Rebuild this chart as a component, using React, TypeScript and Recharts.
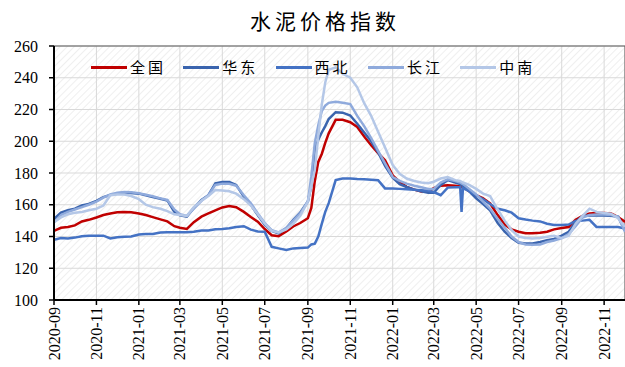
import React from 'react';
import { LineChart, Line, XAxis, YAxis, CartesianGrid, Legend, ReferenceLine } from 'recharts';

const dates = [
  '2020-09-01','2020-09-11','2020-09-21','2020-10-01','2020-10-11','2020-10-21','2020-11-01','2020-11-11','2020-11-21','2020-12-01',
  '2020-12-11','2020-12-21','2021-01-01','2021-01-11','2021-01-21','2021-02-01','2021-02-11','2021-02-21','2021-03-01','2021-03-11',
  '2021-03-21','2021-04-01','2021-04-11','2021-04-21','2021-05-01','2021-05-11','2021-05-21','2021-06-01','2021-06-11','2021-06-21',
  '2021-07-01','2021-07-11','2021-07-21','2021-08-01','2021-08-11','2021-08-21','2021-09-01','2021-09-06','2021-09-11','2021-09-16',
  '2021-09-21','2021-09-26','2021-10-01','2021-10-11','2021-10-21','2021-11-01','2021-11-11','2021-11-21','2021-12-01','2021-12-11',
  '2021-12-21','2022-01-01','2022-01-11','2022-01-21','2022-02-01','2022-02-11','2022-02-21','2022-03-01','2022-03-11','2022-03-21',
  '2022-04-01','2022-04-08','2022-04-10','2022-04-12','2022-04-21','2022-05-01','2022-05-11','2022-05-21','2022-06-01','2022-06-11',
  '2022-06-21','2022-07-01','2022-07-11','2022-07-21','2022-08-01','2022-08-11','2022-08-21','2022-09-01','2022-09-11','2022-09-21',
  '2022-10-01','2022-10-11','2022-10-21','2022-11-01','2022-11-11','2022-11-21','2022-12-01',
];

const national = [
  143.5,145.5,146,147,149.5,150.5,152,153.5,154.5,155.2,
  155.4,155.3,154.5,153.5,152.2,150.8,149.5,146.5,145.5,144.8,
  149,152.5,154.5,156.5,158.3,159.2,158.4,155.5,152.3,149.3,
  144.7,140.8,140.2,143.2,146.3,148.5,151.5,158,175,187,
  192,199,205,213.5,213.5,212,209,203,197.5,192.5,
  188,178.5,174.4,171.3,169.5,168.3,168.3,170.5,172,172.3,
  172,171.5,171.2,171,168.5,166,164,160.8,153.5,147.5,
  144.5,143,142,142,142.3,143,144.5,145.3,146,150.5,
  153,154.5,154.8,154.8,154.5,152.3,149.2,
];

const eastChina = [
  151,155,156.5,157.5,159.5,160.5,162.5,164.8,166.2,167,
  167.4,167.4,167,166,164.8,163.8,162.7,155.5,153.3,152.5,
  158,163,166,173.5,174.3,174.3,172.5,165,160,153.5,
  147.5,143.5,142,145.2,150.5,155,162,172,195,201,
  205.5,209.5,214,218.3,218,216.2,211,205.5,200,193,
  184.5,177,173,171.2,169.5,168.5,167.5,167.5,172.5,175.5,
  174,173,172.5,172,168.5,164,160.5,156.5,148.5,143,
  139,136,135.6,135.6,136.5,137.7,138.5,140.5,143,149,
  153,153.3,153.3,153.3,153,152.5,144,
];

const northwest = [
  138,139,138.8,139.3,140.2,140.4,140.5,140.5,138.8,139.5,
  139.8,140,141.3,141.5,141.6,142.5,142.7,142.7,142.7,142.7,
  143,143.8,143.8,144.5,144.8,145.2,146,146.5,144.3,143.2,
  143,133.5,132.5,131.5,132.5,132.8,133,135,135.5,140,
  148,155.5,161,175.5,176.5,176.5,176.2,176,175.8,175.5,
  170.3,170.2,170,169.8,169.5,169.2,168.8,168,166,170.8,
  171,171,155.5,170.5,168.5,166,163.5,160.5,157.5,156.5,
  155,151.5,150.7,150,149.5,148,147.3,147.3,147.5,149.8,
  150,150.5,146,146,146,146,145,
];

const yangtze = [
  149,153.5,155.5,157,158.5,160,162,164.5,166.5,167.5,
  168,167.8,167.2,166.3,165.3,164,163,157,154,153,
  157.5,162.5,166,172.5,173.3,173.2,172,166,161,154.5,
  148.5,144,142.5,145.5,150,154.5,162,178,199,210,
  219,222.5,224.2,224.9,224.3,223.4,216,209.5,202,194,
  186,177.5,175,173.3,172,171,170,170,174,176,
  175,174,173.5,173,170,166.5,162,157.5,151,145.5,
  140,136.5,135,134.8,135,136.5,137.5,139,141.5,146.5,
  152,153.5,153.8,153.8,153.5,152.5,143,
];

const centralSouth = [
  149,152,154,155,155.5,156.5,157.5,159.5,166,166.5,
  166.5,165.5,163.5,160,158.5,157.5,156,154,153.5,153,
  158.5,162.5,165.5,169.3,169,168.5,167,163.5,159.5,154,
  148,143.5,142.5,144.5,148,153,162,172,182,203,
  223,237,245,246.5,242.5,240,234,224,216,206,
  196,185,179.5,176.5,175,174,173.5,174.5,176.5,177.5,
  175.5,175,174.5,174,172.5,170,167,165.5,157,150,
  144,140,139,138.8,139,139.8,140.5,139,140.5,148,
  153,157.5,155.5,154.8,154.4,151.5,146,
];

const tickLabels = ['2020-09','2020-11','2021-01','2021-03','2021-05','2021-07','2021-09','2021-11','2022-01','2022-03','2022-05','2022-07','2022-09','2022-11'];
const yTicks = [100, 120, 140, 160, 180, 200, 220, 240, 260];

const seriesNames = ['全国', '华东', '西北', '长江', '中南'];
const seriesValues = [national, eastChina, northwest, yangtze, centralSouth];
const seriesColors = ['#C00000', '#3A64AE', '#4472C4', '#8FAADC', '#B4C7E7'];

const BASE = Date.UTC(2020, 8, 1);
const toDay = (s: string) => Math.round((Date.parse(s + 'T00:00:00Z') - BASE) / 86400000);
const tickDays = tickLabels.map((l) => toDay(l + '-01'));
const lastDay = toDay(dates[dates.length - 1]);

const data = dates.map((d, i) => {
  const row: any = { day: toDay(d) };
  seriesNames.forEach((n, k) => { row[n] = seriesValues[k][i]; });
  return row;
});

const SERIF = '"Liberation Serif", "Times New Roman", serif';
const CJK = '"Noto Sans CJK SC", sans-serif';

const XTick = (props: any) => {
  const { x, y, payload } = props;
  const idx = tickDays.indexOf(payload.value);
  const label = idx >= 0 ? tickLabels[idx] : '';
  return (
    <text x={x} y={y} transform={`rotate(-90 ${x} ${y})`} textAnchor="end" dominantBaseline="central"
      fontFamily={SERIF} fontSize={16} fill="#000">{label}</text>
  );
};

const renderLegend = () => (
  <div style={{ display: 'flex', paddingLeft: 91, width: 625, boxSizing: 'border-box' }}>
    {seriesNames.map((n, k) => (
      <div key={n} style={{ display: 'flex', alignItems: 'center', width: 92.3 }}>
        <div style={{ width: 36, height: 3, background: seriesColors[k], marginRight: 3 }} />
        <span style={{ fontFamily: CJK, fontSize: 15, letterSpacing: 3, color: '#000', lineHeight: '20px' }}>{n}</span>
      </div>
    ))}
  </div>
);

export default function App() {
  return (
    <div style={{ position: 'absolute', left: 0, top: 0, width: 625, height: 367, background: '#fff' }}>
      <div style={{ position: 'absolute', left: 0, top: 6, width: 650, textAlign: 'center', fontFamily: CJK, fontSize: 21, letterSpacing: 4, color: '#000', lineHeight: '28px' }}>
        水泥价格指数
      </div>
      <LineChart width={626} height={367} data={data} margin={{ top: 46, right: 1, bottom: 0, left: 0 }}>
        <defs>
          <pattern id="hatch" width="5" height="5" patternUnits="userSpaceOnUse" patternTransform="rotate(45)">
            <line x1="0" y1="0" x2="0" y2="5" stroke="#E4E4E4" strokeWidth="1.2" />
          </pattern>
        </defs>
        <CartesianGrid stroke="#D9D9D9" strokeWidth={1} fill="url(#hatch)" fillOpacity={1} />
        <XAxis dataKey="day" type="number" domain={[0, lastDay]} ticks={tickDays} interval={0}
          height={67} tickSize={5} tickMargin={2} tick={<XTick />}
          axisLine={{ stroke: '#000', strokeWidth: 2 }} tickLine={{ stroke: '#000', strokeWidth: 1.5 }} allowDataOverflow />
        <YAxis domain={[100, 260]} ticks={yTicks} interval={0} width={54} tickSize={5} tickMargin={11}
          tick={{ fontFamily: SERIF, fontSize: 16, fill: '#000' }}
          axisLine={{ stroke: '#000', strokeWidth: 2 }} tickLine={{ stroke: '#000', strokeWidth: 1.5 }} />
        <ReferenceLine y={260} stroke="#595959" strokeWidth={1} ifOverflow="extendDomain" />
        <ReferenceLine x={lastDay} stroke="#595959" strokeWidth={1} />
        <Legend verticalAlign="middle" layout="horizontal" content={renderLegend}
          wrapperStyle={{ top: 57, left: 0, width: 625, height: 20 }} />
        {seriesNames.map((n, k) => (
          <Line key={n} type="linear" dataKey={n} stroke={seriesColors[k]} strokeWidth={2.5}
            dot={false} activeDot={false} isAnimationActive={false} />
        ))}
      </LineChart>
    </div>
  );
}
